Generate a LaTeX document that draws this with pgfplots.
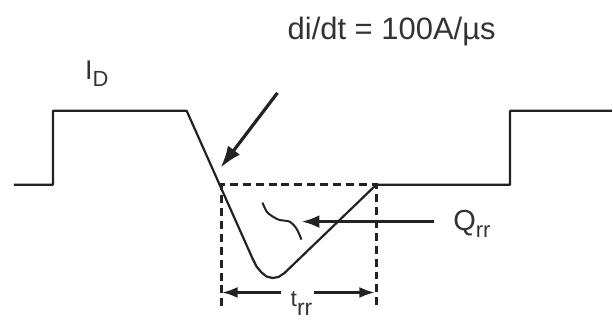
\documentclass[border=0pt]{standalone}
\usepackage{pgfplots}
\pgfplotsset{compat=1.18}
\usepackage{fontspec}
\setmainfont{Liberation Sans}
\usetikzlibrary{arrows.meta}
\definecolor{ln}{HTML}{222222}
\definecolor{tx}{HTML}{333333}
\begin{document}
\begin{tikzpicture}
\begin{axis}[scale only axis, width=613bp, height=327bp,
  xmin=0, xmax=613, ymin=0, ymax=327, y dir=reverse,
  hide axis, clip=false]
\path (rel axis cs:0,0) rectangle (rel axis cs:1,1);
% waveform
\addplot[ln, line width=2.2bp, line join=round] coordinates {
 (14,185) (53,185) (53,111) (187,111) (253,259) (257,267) (262,273) (267,277) (273,278.5) (279,277.5) (285,273.5) (377,185) (511,185) (511,111) (613,111)};
% dashed box
\addplot[ln, line width=3bp, dash pattern=on 8bp off 5bp] coordinates {(222,307) (222,185) (377,185) (377,307)};
% squiggle
\addplot[ln, line width=2bp, smooth] coordinates {(263,203) (268,213) (279,220) (290,222) (297,229) (302,240)};
% big arrow
\addplot[ln, line width=3.2bp, -{Latex[length=22bp,width=15bp]}] coordinates {(278,93) (221,168)};
% Q_rr arrow
\addplot[ln, line width=3.2bp, -{Latex[length=18bp,width=13bp]}] coordinates {(435,222) (302,222)};
% t_rr arrows
\addplot[ln, line width=3.2bp, -{Latex[length=16bp,width=11bp]}] coordinates {(281,293) (222,293)};
\addplot[ln, line width=3.2bp, -{Latex[length=16bp,width=11bp]}] coordinates {(315,293) (376,293)};
% texts
\node[tx, anchor=base west, inner sep=0, font=\fontsize{31bp}{36bp}\selectfont] at (axis cs:288,40) {di/dt = 100A/µs};
\node[tx, anchor=base west, inner sep=0, font=\fontsize{27bp}{30bp}\selectfont] at (axis cs:85,80) {I\raisebox{-7bp}{\fontsize{22bp}{24bp}\selectfont D}};
\node[tx, anchor=base west, inner sep=0, font=\fontsize{29bp}{32bp}\selectfont] at (axis cs:454,231) {Q\raisebox{-7bp}{\fontsize{22bp}{24bp}\selectfont rr}};
\node[tx, anchor=base west, inner sep=0, font=\fontsize{23bp}{26bp}\selectfont] at (axis cs:291,307) {t\raisebox{-9bp}{rr}};
\end{axis}
\end{tikzpicture}
\end{document}
